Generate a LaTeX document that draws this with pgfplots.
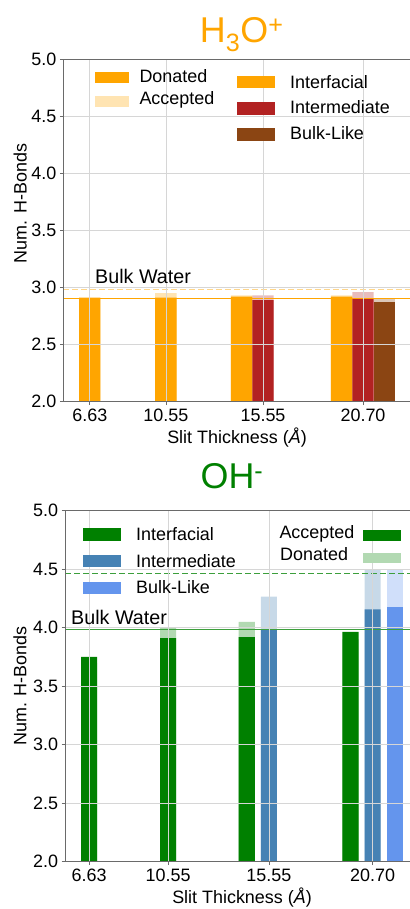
\documentclass[border=0pt]{standalone}
\usepackage{pgfplots}
\pgfplotsset{compat=1.18}
\usepackage{fontspec}
\setmainfont{Liberation Sans}

\definecolor{mplorange}{HTML}{FFA500}
\definecolor{firebrick}{HTML}{B22222}
\definecolor{saddlebrown}{HTML}{8B4513}
\definecolor{mplgreen}{HTML}{008000}
\definecolor{steelblue}{HTML}{4682B4}
\definecolor{cornflower}{HTML}{6495ED}
\definecolor{gridgray}{HTML}{D6D6D6}
\definecolor{spinegray}{HTML}{6A6A6A}
\definecolor{lightorange}{HTML}{FFD68A}
\definecolor{linegreen}{HTML}{3C9F3C}

\newcommand{\fs}[1]{\fontsize{#1}{#1}\selectfont}

\pgfplotsset{
  hbond/.style={
    axis on top,
    scale only axis,
    ymin=2, ymax=5,
    ytick={2,2.5,3,3.5,4,4.5,5},
    xtick={6.63,10.55,15.55,20.70},
    xticklabels={6.63,10.55,15.55,20.70},
    yticklabel style={/pgf/number format/fixed, /pgf/number format/fixed zerofill,
      /pgf/number format/precision=1},
    /pgf/number format/assume math mode=true,
    ticklabel style={font=\fs{18}},
    tick pos=left,
    grid=major,
    major grid style={draw=gridgray, line width=0.8bp},
    axis line style={draw=spinegray, line width=0.8bp},
    tick style={draw=spinegray, line width=0.8bp},
    tick align=outside,
    major tick length=3.5bp,
    xlabel={Slit Thickness (\textit{Å})},
    ylabel={Num. H-Bonds},
    xlabel style={font=\fs{18}, at={(axis description cs:0.5,0)}, anchor=base, yshift=-42bp},
  },
  hbar/.style={ybar, bar shift=0pt, draw=none},
}

\begin{document}
\begin{tikzpicture}[x=1bp,y=1bp]
\path[use as bounding box] (0,0) rectangle (409,909);

% ---- H3O+ ----
\begin{axis}[hbond,
  at={(63.3bp,507.3bp)}, anchor=south west,
  width=347.4bp, height=342.7bp,
  xmin=5.265, xmax=23.155,
  every axis y label/.style={at={([xshift=-43bp]axis description cs:0,0.578)},
    rotate=90, anchor=center, font=\fs{18}},
]
% accepted (light)
\addplot[hbar, bar width=1.1, fill=mplorange, fill opacity=0.3]
  coordinates {(6.63,2.90) (10.55,2.95) (14.45,2.93) (19.60,2.93)};
\addplot[hbar, bar width=1.1, fill=firebrick, fill opacity=0.3]
  coordinates {(15.55,2.93) (20.70,2.96)};
\addplot[hbar, bar width=1.1, fill=saddlebrown, fill opacity=0.3]
  coordinates {(21.80,2.91)};
% donated (solid)
\addplot[hbar, bar width=1.1, fill=mplorange]
  coordinates {(6.63,2.91) (10.55,2.91) (14.45,2.92) (19.60,2.92)};
\addplot[hbar, bar width=1.1, fill=firebrick]
  coordinates {(15.55,2.89) (20.70,2.905)};
\addplot[hbar, bar width=1.1, fill=saddlebrown]
  coordinates {(21.80,2.875)};
% bulk water
\addplot[color=mplorange, line width=1.3bp] coordinates {(5.265,2.905) (23.155,2.905)};
\addplot[color=lightorange, line width=1.3bp, dash pattern=on 6bp off 3bp]
  coordinates {(5.265,2.985) (23.155,2.985)};
\end{axis}

\node[anchor=base, inner sep=0, text=mplorange, font=\fs{36}] at (241.7,866.3)
  {H\textsubscript{3}O\textsuperscript{+}};
\node[anchor=base west, inner sep=0, font=\fs{19.8}] at (95,625.7) {Bulk Water};

% legends
\fill[mplorange] (95,825.7) rectangle (129,837.3);
\fill[mplorange!30] (95,801.7) rectangle (129,813);
\node[anchor=base west, inner sep=0, font=\fs{18}] at (139.3,826.3) {Donated};
\node[anchor=base west, inner sep=0, font=\fs{18}] at (139.3,804) {Accepted};
\fill[mplorange] (237.3,820.7) rectangle (275,833);
\fill[firebrick] (237.3,794) rectangle (275,806.7);
\fill[saddlebrown] (237.3,768.3) rectangle (275,780.7);
\node[anchor=base west, inner sep=0, font=\fs{18}] at (290,820.7) {Interfacial};
\node[anchor=base west, inner sep=0, font=\fs{18}] at (290,795) {Intermediate};
\node[anchor=base west, inner sep=0, font=\fs{18}] at (290,769) {Bulk-Like};

% ---- OH- ----
\begin{axis}[hbond,
  at={(65bp,47.3bp)}, anchor=south west,
  width=354bp, height=351bp,
  xmin=5.43, xmax=23.0,
  every axis y label/.style={at={([xshift=-45bp]axis description cs:0,0.5)},
    rotate=90, anchor=center, font=\fs{18}},
]
% donated (light)
\addplot[hbar, bar width=0.8, fill=mplgreen, fill opacity=0.3]
  coordinates {(6.63,3.70) (10.55,4.00) (14.45,4.05) (19.60,3.90)};
\addplot[hbar, bar width=0.8, fill=steelblue, fill opacity=0.3]
  coordinates {(15.55,4.265) (20.70,4.50)};
\addplot[hbar, bar width=0.8, fill=cornflower, fill opacity=0.3]
  coordinates {(21.80,4.50)};
% accepted (solid)
\addplot[hbar, bar width=0.8, fill=mplgreen]
  coordinates {(6.63,3.75) (10.55,3.91) (14.45,3.92) (19.60,3.965)};
\addplot[hbar, bar width=0.8, fill=steelblue]
  coordinates {(15.55,3.98) (20.70,4.157)};
\addplot[hbar, bar width=0.8, fill=cornflower]
  coordinates {(21.80,4.18)};
% bulk water
\addplot[color=linegreen, line width=1.5bp] coordinates {(5.43,3.985) (23.0,3.985)};
\addplot[color=linegreen, line width=1.5bp, dash pattern=on 6bp off 3bp]
  coordinates {(5.43,4.465) (23.0,4.465)};
\end{axis}

\node[anchor=base, inner sep=0, text=mplgreen, font=\fs{36}] at (232,420.7)
  {OH\textsuperscript{-}};
\node[anchor=base west, inner sep=0, font=\fs{19.8}] at (71,284) {Bulk Water};

\fill[mplgreen] (82.7,368.3) rectangle (120.7,380.7);
\fill[steelblue] (82.7,341.7) rectangle (120.7,354);
\fill[cornflower] (82.7,315) rectangle (120.7,327.3);
\node[anchor=base west, inner sep=0, font=\fs{18}] at (136,368.3) {Interfacial};
\node[anchor=base west, inner sep=0, font=\fs{18}] at (136,341.7) {Intermediate};
\node[anchor=base west, inner sep=0, font=\fs{18}] at (136,315) {Bulk-Like};
\node[anchor=base west, inner sep=0, font=\fs{18}] at (279.3,370.7) {Accepted};
\node[anchor=base west, inner sep=0, font=\fs{18}] at (280,348.3) {Donated};
\fill[mplgreen] (362.7,368.3) rectangle (401,379);
\fill[mplgreen!30] (362.7,345.7) rectangle (401,356.3);
\end{tikzpicture}
\end{document}
